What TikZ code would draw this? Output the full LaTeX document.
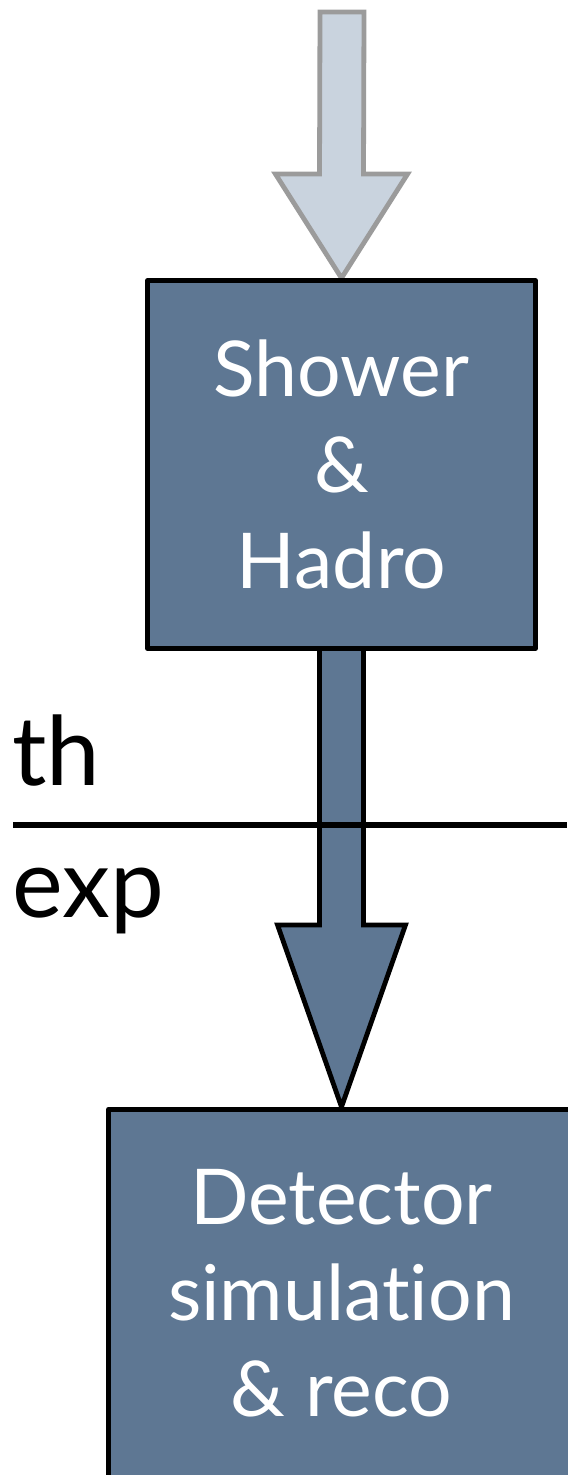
\documentclass[tikz,border=0pt]{standalone}
\usepackage{fontspec}
\setmainfont{Lato}[Ligatures=NoCommon]
\usetikzlibrary{positioning,calc,backgrounds}
\definecolor{boxblue}{HTML}{5E7793}
\definecolor{liteblue}{HTML}{C9D3DE}
\definecolor{litegrey}{HTML}{9B9B9B}
\begin{document}
\begin{tikzpicture}[x=0.5pt,y=-0.5pt,line join=round,
  stage/.style={draw=black,line width=2.4pt,fill=boxblue,text=white,align=center,
    minimum height=184pt,inner sep=0pt,font=\fontsize{38.5}{48}\selectfont},
  fatarrow/.style={line width=2.4pt,draw=black,fill=boxblue},
  litearrow/.style={line width=2.4pt,draw=litegrey,fill=liteblue},
  side/.style={anchor=base west,inner sep=0pt,font=\fontsize{48}{50}\selectfont}]
\useasboundingbox (0,0) rectangle (567,1475);
\coordinate (src) at (342,12);
\node[stage,minimum width=194pt] (hadro) at (341.5,464.5) {Shower\\\&\\Hadro};
\node[stage,minimum width=233pt,below=228pt of hadro] (reco) {Detector\\simulation\\\& reco};
\begin{scope}[on background layer]
\draw[litearrow] ($(src)+(-22,0)$) -- ($(src)+(22,0)$) -- ($(hadro.north)+(22,-104)$) -- ($(hadro.north)+(66,-104)$)
  -- (hadro.north) -- ($(hadro.north)+(-66,-104)$) -- ($(hadro.north)+(-22,-104)$) -- cycle;
\draw[fatarrow] ($(hadro.south)+(-22,-4)$) -- ($(hadro.south)+(22,-4)$) -- ($(reco.north)+(22,-182)$) -- ($(reco.north)+(64,-182)$)
  -- (reco.north) -- ($(reco.north)+(-64,-182)$) -- ($(reco.north)+(-22,-182)$) -- cycle;
\end{scope}
\coordinate (cutl) at (13,825);
\coordinate (cutr) at (567,825);
\draw[line width=3.2pt] (cutl) -- (cutr);
\node[side] (th) at (12,785) {th};
\node[side] (exp) at (12,917) {exp};
\end{tikzpicture}
\end{document}
